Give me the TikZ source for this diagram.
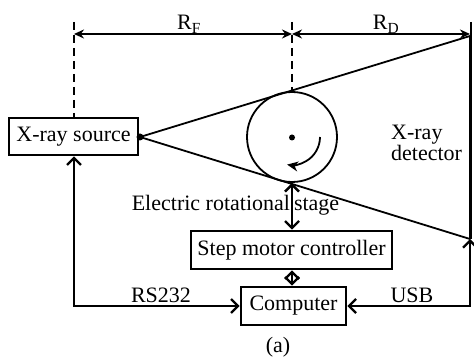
\documentclass[tikz,border=0pt]{standalone}
\usepackage{fontspec}
\setmainfont{Liberation Serif}
\usetikzlibrary{arrows.meta}
\begin{document}
\begin{tikzpicture}[x=1pt,y=-1pt,
  every node/.style={font=\fontsize{22}{20}\selectfont, inner sep=0pt},
  box/.style={draw, line width=2.6pt, rectangle, inner sep=0pt},
  wire/.style={line width=2.4pt},
  ray/.style={line width=1.8pt},
  barb/.style={{Straight Barb[length=7pt,width=14pt,line width=2.4pt]}-{Straight Barb[length=7pt,width=14pt,line width=2.4pt]}},
  dimarr/.style={line width=1.8pt, {Stealth[length=10pt,width=9pt]}-{Stealth[length=10pt,width=9pt]}},
  dashline/.style={line width=1.6pt, dash pattern=on 8pt off 5pt}]
\useasboundingbox (0,0) rectangle (474,358);

% boxes
\node[box, minimum width=129pt, minimum height=37pt] (src) at (73.5,136.5) {X-ray source};
\node[box, minimum width=201pt, minimum height=38pt] (smc) at (291.5,250) {Step motor controller};
\node[box, minimum width=105pt, minimum height=38pt] (comp) at (293.5,306) {Computer};
\node[draw, circle, line width=1.8pt, minimum size=90pt] (stage) at (292,137) {};
\node[circle, fill, minimum size=6pt] (axis) at (292,137.5) {};
\node[circle, fill, minimum size=7pt] (focus) at (140,137) {};

% detector
\coordinate (dtop) at (470,36);
\coordinate (dbot) at (470,239);
\draw[line width=3pt] (dtop) -- (dbot);
\draw[ray] (focus.center) -- (dtop);
\draw[ray] (focus.center) -- (dbot);

% dimension lines
\coordinate (dl) at (74,34);
\coordinate (dm) at (292,34);
\coordinate (dr) at (470,34);
\draw[dashline] (74,22) -- (src.north -| dl);
\draw[dashline] (292,22) -- (stage.north);
\draw[line width=1.6pt] (471,22) -- (471,36);
\draw[dimarr] (dl) -- (dm);
\draw[dimarr] (dm) -- (dr);
\node[anchor=base] (rf) at (189,30) {R\textsubscript{F}};
\node[anchor=base] (rd) at (386,30) {R\textsubscript{D}};

% rotation arrow
\draw[line width=1.8pt, -{Stealth[length=11pt,width=10pt]}] (320,137) arc[start angle=0, end angle=100, radius=28];

% connectors
\draw[wire, barb] (stage.south) -- (stage.south |- smc.north);
\draw[wire, barb] (smc.south -| stage.south) -- (comp.north -| stage.south);
\draw[wire, barb] (src.south -| dl) |- (comp.west);
\draw[wire, barb] (comp.east) -| (dbot);

% labels
\node[anchor=base] (stagelbl) at (235.5,211) {Electric rotational\hspace{4pt}stage};
\node[anchor=base] (rs) at (161,302) {RS232};
\node[anchor=base] (usb) at (412,302) {USB};
\node[anchor=west, align=left] (det) at (391,143) {X-ray\\detector};
\node (cap) at (278,347) {(a)};
\end{tikzpicture}
\end{document}
